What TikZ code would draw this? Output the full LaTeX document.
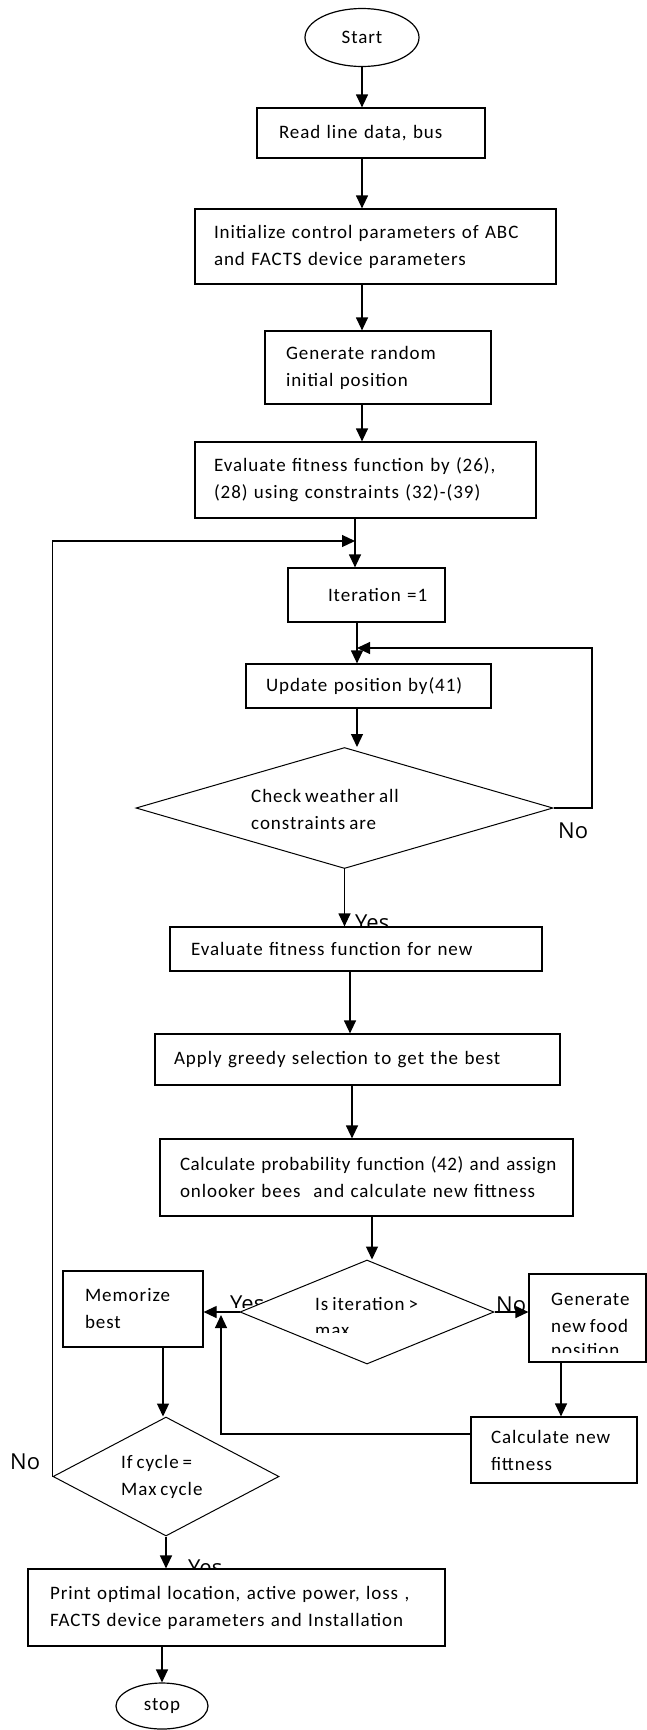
\documentclass[tikz,border=0pt]{standalone}
\usepackage{fontspec}
\setmainfont{Carlito}[LetterSpace=5,WordSpace=0.75]
\newfontfamily\lblfont{Open Sans}
\usetikzlibrary{arrows.meta,shapes.geometric}
\begin{document}
\begin{tikzpicture}[x=1pt,y=-1pt,
  every node/.style={font=\fontsize{19pt}{27pt}\selectfont},
  box/.style={draw, line width=1.2pt, fill=white, rectangle, align=left, inner ysep=0pt},
  term/.style={draw, line width=1.2pt, fill=white, ellipse, inner sep=0pt},
  decision/.style={draw, line width=1pt, fill=white, diamond, inner sep=0pt},
  txt/.style={inner sep=0pt, align=left},
  lbl/.style={inner sep=0pt, anchor=base west, font=\lblfont\fontsize{22pt}{26pt}\selectfont},
  arr/.style={line width=1.2pt, -{Triangle[length=13pt,width=12pt]}}]
\path[use as bounding box] (0,0) rectangle (646,1730);

% labels (drawn first so that boxes cover them)
\node[lbl] (no1) at (558,838) {No};
\node[lbl] (yes1) at (355,930) {Yes};
\begin{scope}
  \clip (220,1280) rectangle (300,1307);
  \node[lbl] (yes2) at (230,1311) {Yes};
\end{scope}
\node[lbl] (no2) at (496,1312) {No};
\node[lbl] (no3) at (10,1469) {No};
\node[lbl] (yes3) at (188,1575) {Yes};

% nodes
\node[term, minimum width=114pt, minimum height=58pt] (start) at (362,37.5) {Start};
\node[box, minimum width=228pt, minimum height=50pt, inner xsep=22pt, text width=184pt] (read) at (371,133) {\mbox{Read line data, bus}};
\node[box, minimum width=361pt, minimum height=75pt, inner xsep=19pt, text width=323pt] (init) at (375.5,246.5) {\mbox{Initialize control parameters of ABC}\\\mbox{and FACTS device parameters}};
\node[box, minimum width=226pt, minimum height=73pt, inner xsep=21pt, text width=184pt] (gen) at (378,367.5) {\mbox{Generate random}\\\mbox{initial position}};
\node[box, minimum width=341pt, minimum height=76pt, inner xsep=19pt, text width=303pt] (eval) at (365.5,480) {\mbox{Evaluate fitness function by (26),}\\\mbox{(28) using constraints (32)-(39)}};
\node[box, minimum width=157pt, minimum height=54pt, inner xsep=40pt, text width=77pt] (iter) at (366.5,595) {\mbox{Iteration =1}};
\node[box, minimum width=245pt, minimum height=44pt, inner xsep=20pt, text width=205pt] (update) at (368.5,686) {\mbox{Update position by(41)}};
\node[decision, minimum width=417pt, minimum height=121pt] (check) at (344.5,808) {};
\node[txt, anchor=west] (checktxt) at (251,809.5) {Check weather all\\constraints are};
\node[box, minimum width=372pt, minimum height=44pt, inner xsep=21pt, text width=330pt] (evalnew) at (356,949) {\mbox{Evaluate fitness function for new}};
\node[box, minimum width=405pt, minimum height=51pt, inner xsep=19pt, text width=367pt] (apply) at (357.5,1059.5) {\mbox{Apply greedy selection to get the best}};
\node[box, minimum width=413pt, minimum height=77pt, inner xsep=20pt, text width=373pt] (calc) at (366.5,1177.5) {\mbox{\addfontfeatures{LetterSpace=3}Calculate probability function (42) and assign}\\\mbox{onlooker bees\ \ and calculate new fittness}};
\node[decision, minimum width=254pt, minimum height=104pt] (isiter) at (367,1312) {};
\node[txt, anchor=base west] (isitertxt1) at (315,1310) {Is iteration >};
\begin{scope}
  \clip (300,1315) rectangle (420,1332);
  \node[txt, anchor=base west] (isitertxt2) at (315,1336) {max};
\end{scope}
\node[box, minimum width=140pt, minimum height=76pt, inner xsep=22pt, text width=96pt] (memo) at (133,1309) {\mbox{Memorize}\\\mbox{best}};
\node[box, minimum width=117pt, minimum height=88pt, inner sep=0pt] (genfood) at (587.5,1318) {};
\begin{scope}
  \clip (529,1274) rectangle (646,1352);
  \node[txt, anchor=base west] (gentxt1) at (551,1305) {Generate};
  \node[txt, anchor=base west] (gentxt2) at (551,1332) {new food};
  \node[txt, anchor=base west] (gentxt3) at (551,1356) {position};
\end{scope}
\node[box, minimum width=166pt, minimum height=66pt, inner xsep=20pt, text width=126pt] (calcnew) at (554,1450) {\mbox{Calculate new}\\\mbox{fittness}};
\node[decision, minimum width=226pt, minimum height=119pt] (ifcyc) at (166,1476.5) {};
\node[txt, anchor=west] (ifcyctxt) at (121,1477) {If cycle =\\Max cycle};
\node[box, minimum width=417pt, minimum height=77pt, inner xsep=22pt, text width=373pt] (print) at (236.5,1607.5) {\mbox{Print optimal location, active power, loss ,}\\\mbox{FACTS device parameters and Installation}};
\node[term, minimum width=92pt, minimum height=46pt] (stop) at (162,1706) {stop};

% helper coordinates
\coordinate (j1) at (355,541);
\coordinate (j2) at (357,648);
\coordinate (k1) at (592,648);
\coordinate (xa) at (350,0);
\coordinate (xb) at (352,0);
\coordinate (xc) at (372,0);
\coordinate (xg) at (561,0);
\coordinate (xm) at (163,0);
\coordinate (j3) at (221,1434);
\coordinate (j4) at (221,1315);

% connectors
\draw[arr] (start.south) -- (start.south |- read.north);
\draw[arr] (read.south -| start) -- (init.north -| start);
\draw[arr] (init.south -| start) -- (gen.north -| start);
\draw[arr] (gen.south -| start) -- (eval.north -| start);
\draw[arr] (eval.south -| j1) -- (iter.north -| j1);
\draw[arr] (ifcyc.west) -- (ifcyc.west |- j1) -- (j1);
\draw[arr] (iter.south -| j2) -- (update.north -| j2);
\draw[arr] (check.east) -| (k1) -- (j2);
\draw[arr] (update.south -| j2) -- (check.north -| j2);
\draw[arr] (check.south) -- (check.south |- evalnew.north);
\draw[arr] (evalnew.south -| xa) -- (apply.north -| xa);
\draw[arr] (apply.south -| xb) -- (calc.north -| xb);
\draw[arr] (calc.south -| xc) -- (isiter.north -| xc);
\draw[arr] (isiter.west) -- (isiter.west -| memo.east);
\draw[arr] (isiter.east) -- (isiter.east -| genfood.west);
\draw[arr] (genfood.south -| xg) -- (calcnew.north -| xg);
\draw[arr] (calcnew.west |- j3) -- (j3) -- (j4);
\draw[arr] (memo.south -| xm) -- (ifcyc.north -| xm);
\draw[arr] (ifcyc.south) -- (ifcyc.south |- print.north);
\draw[arr] (print.south -| stop) -- (stop.north);
\end{tikzpicture}
\end{document}
